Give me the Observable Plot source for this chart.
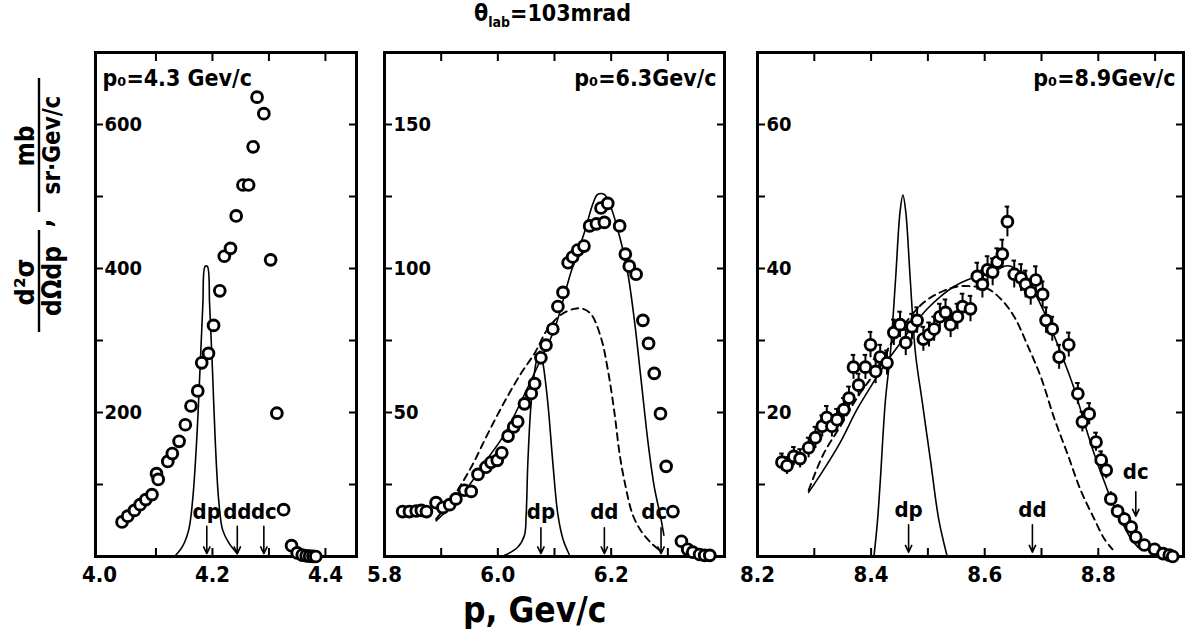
<!DOCTYPE html>
<html>
<head>
<meta charset="utf-8">
<script src="https://cdn.jsdelivr.net/npm/d3@7"></script>
<script src="https://cdn.jsdelivr.net/npm/@observablehq/plot@0.6"></script>
<style>
  html, body { margin: 0; padding: 0; background: #fff; }
  #wrap { position: relative; width: 1187px; height: 629px; overflow: hidden; background: #fff;
          font-family: "DejaVu Sans Condensed", "DejaVu Sans", sans-serif; font-weight: bold; color: #000; }
  #wrap svg { position: absolute; top: 0; }
  .title { position: absolute; left: 474px; top: 1px; font-size: 23px; line-height: 1.1; white-space: nowrap; }
  .title sub { font-size: 14px; }
  .xlab { position: absolute; left: 463px; top: 593px; font-size: 35px; line-height: 1; white-space: nowrap; }
</style>
</head>
<body>
<div id="wrap">
  <div class="title">θ<sub>lab</sub>=103mrad</div>
  <div class="xlab">p, Gev/c</div>
</div>
<script>
// ---------- Panel 1 : p0 = 4.3 GeV/c ----------
const p1x = [4.040,4.050,4.062,4.072,4.082,4.093,4.101,4.104,4.121,4.129,4.141,4.152,4.162,4.174,4.181,4.193,4.202,4.213,4.221,4.232,4.242,4.254,4.264,4.272,4.279,4.291,4.303,4.314,4.326,4.340,4.350,4.359,4.366,4.372,4.378,4.383];
const p1y = [48,56,64,72,79,86,115,107,132,143,160,183,209,230,269,282,321,369,417,428,473,516,516,569,638,615,412,199,65,15,5,2,1,0.5,0.3,0];
const c1x = [4.133,4.147,4.158,4.165,4.172,4.178,4.183,4.187,4.191,4.195,4.200,4.205,4.211,4.218,4.229,4.244];
const c1y = [0,14,37,79,160,260,350,403,403,350,260,160,79,37,19,4];
const m1x = [4.190,4.244,4.291];
const m1lab = ["dp","dd","dc"];
const x1ticks = [4.1,4.2,4.3,4.4];
const x1labels = [4.0,4.2,4.4];
const y1ticks = [100,200,300,400,500,600];
const y1labels = [200,400,600];

// ---------- Panel 2 : p0 = 6.3 GeV/c ----------
const p2x = [5.832,5.844,5.856,5.865,5.874,5.891,5.903,5.915,5.926,5.941,5.953,5.965,5.979,5.988,5.999,6.007,6.018,6.028,6.035,6.047,6.059,6.065,6.076,6.085,6.097,6.106,6.115,6.124,6.132,6.141,6.152,6.162,6.174,6.182,6.188,6.194,6.215,6.225,6.232,6.244,6.256,6.266,6.276,6.287,6.297,6.309,6.324,6.335,6.344,6.356,6.365,6.374];
const p2y = [15.6,15.6,15.8,16,15.6,18.7,17,18,20,23,22.6,28.5,31,32.7,33.4,36,41.8,45,46.8,53,56.6,60,69,73.4,79,86.8,91.7,102,104,106.4,107.8,114.8,115.5,121,116,122.6,114.8,105,100.8,98,82,74,63.6,49.6,31.3,15.6,5.3,2.5,1.5,0.7,0.4,0.4];
const c2x = [5.891,5.924,5.953,5.982,6.012,6.041,6.071,6.100,6.129,6.153,6.168,6.176,6.188,6.200,6.215,6.229,6.241,6.253,6.265,6.276,6.288,6.293];
const c2y = [12.4,18.7,25.7,34,42.5,53.8,66.4,79,98.7,112.7,122.6,125.7,125.7,121,111,98.7,82,61,39.7,24.3,13,7.4];
const d2x = [5.891,5.924,5.953,5.982,6.012,6.041,6.065,6.088,6.112,6.135,6.150,6.165,6.182,6.194,6.206,6.215,6.224,6.238,6.253,6.271,6.288];
const d2y = [13,21.5,31,42.5,53.8,63.6,70.6,79,84,86,86,84,76,65,49.6,35.5,25.7,14.5,8.8,4.6,1.8];
const n2x = [6.012,6.035,6.047,6.050,6.053,6.059,6.068,6.074,6.079,6.088,6.097,6.106,6.115,6.126];
const n2y = [0.4,3.2,7.4,14.5,32.7,53.8,67.8,71.3,67.8,53.8,32.7,14.5,6,0.7];
const m2x = [6.076,6.188,6.288];
const m2lab = ["dp","dd","dc"];
const x2ticks = [5.9,6.0,6.1,6.2,6.3];
const x2labels = [5.8,6.0,6.2];
const y2ticks = [25,50,75,100,125,150];
const y2labels = [50,100,150];

// ---------- Panel 3 : p0 = 8.9 GeV/c ----------
const p3x = [8.243,8.252,8.264,8.275,8.290,8.302,8.314,8.322,8.331,8.340,8.352,8.361,8.369,8.378,8.390,8.399,8.408,8.416,8.428,8.440,8.451,8.461,8.472,8.481,8.492,8.502,8.511,8.521,8.531,8.540,8.552,8.561,8.575,8.587,8.596,8.605,8.614,8.622,8.631,8.640,8.652,8.664,8.672,8.681,8.690,8.702,8.708,8.719,8.731,8.748,8.764,8.772,8.784,8.796,8.805,8.814,8.822,8.834,8.846,8.858,8.866,8.881,8.899,8.914,8.925,8.931];
const p3y = [13.1,12.6,13.9,13.6,15.1,16.5,18.1,19.3,18.1,19.0,20.4,22.0,26.3,23.8,26.3,29.4,25.7,27.7,26.9,31.1,32.2,29.7,31.9,32.8,30.2,30.8,31.6,33.3,33.9,32.2,33.3,34.7,34.4,38.9,37.8,39.8,39.5,40.9,42.0,46.5,39.2,38.7,37.8,36.7,38.4,36.4,32.8,31.6,27.7,29.4,22.6,18.7,19.8,15.9,13.4,12.0,8.0,6.3,5.2,4.1,2.7,1.6,1.0,0.4,0.2,0];
const e3 = [1.2,1.2,1.3,1.3,1.4,1.5,1.5,1.6,1.5,1.5,1.6,1.6,1.7,1.6,1.7,1.8,1.7,1.7,1.7,1.8,1.8,1.8,1.8,1.8,1.7,1.7,1.7,1.8,1.8,1.8,1.8,1.8,1.8,1.9,1.9,1.9,1.9,1.9,2.0,2.1,1.9,1.9,1.9,1.8,1.9,1.8,1.8,1.7,1.7,1.7,1.5,1.4,1.5,1.3,1.2,1.2,1.0,0.9,0.9,0.8,0.7,0.6,0.5,0.4,0.3,0.3];
const c3x = [8.290,8.316,8.346,8.375,8.405,8.428,8.452,8.475,8.499,8.522,8.546,8.569,8.593,8.616,8.634,8.646,8.664,8.687,8.711,8.734,8.758,8.775,8.793,8.811,8.828,8.846,8.858,8.870];
const c3y = [8.9,12,15.9,20.4,24.3,27.1,29.7,32.2,34.4,36.1,37.5,38.4,39,39.5,40.3,40.3,38.9,36.7,32.8,28.3,23.2,18.7,14.2,10.3,6.9,4.1,2.4,1.3];
const d3x = [8.290,8.316,8.346,8.375,8.405,8.434,8.464,8.493,8.522,8.552,8.581,8.605,8.628,8.652,8.675,8.699,8.722,8.746,8.769,8.793,8.811,8.825];
const d3y = [9.2,14.2,18.1,22,25.4,29.4,32.8,35.3,36.7,37.5,37.5,37.2,35.8,33.3,29.4,24.9,19.3,14.2,9.2,5.2,2.4,1];
const n3x = [8.405,8.411,8.416,8.425,8.434,8.443,8.451,8.456,8.461,8.469,8.478,8.490,8.505,8.519,8.534];
const n3y = [0,4.7,10.3,21.5,28.3,38.4,47.9,50.2,47.9,38.4,28.3,21.5,13.1,5.2,0];
const m3x = [8.466,8.684,8.866];
const m3lab = ["dp","dd","dc"];
const x3ticks = [8.3,8.4,8.5,8.6,8.7,8.8,8.9];
const x3labels = [8.2,8.4,8.6,8.8];
const y3ticks = [10,20,30,40,50,60];
const y3labels = [20,40,60];

const FONT = "'DejaVu Sans Condensed', 'DejaVu Sans', sans-serif";
const zipXY = (xs, ys) => xs.map((x, i) => ({x, y: ys[i]}));

function panel(o) {
  const T = 8;
  const marks = [
    // inward ticks on all four sides
    Plot.axisX(o.xticks, {anchor: "bottom", tickSize: T, dy: -T, tickFormat: () => "", strokeWidth: 2, label: null}),
    Plot.axisX(o.xticks, {anchor: "top", tickSize: T, dy: T, tickFormat: () => "", strokeWidth: 2, label: null}),
    Plot.axisY(o.yticks, {anchor: "left", tickSize: T, dx: T, tickFormat: () => "", strokeWidth: 2, label: null}),
    Plot.axisY(o.yticks, {anchor: "right", tickSize: T, dx: -T, tickFormat: () => "", strokeWidth: 2, label: null}),
    // tick labels
    Plot.axisX(o.xlabels, {anchor: "bottom", tickSize: 0, tickPadding: 10, tickFormat: d3.format(".1f"), fontSize: 22, label: null}),
    Plot.text(o.ylabels, {x: o.xd[0], y: d => d, text: d => String(d), dx: 9, textAnchor: "start", fontSize: 20}),
    Plot.frame({stroke: "black", strokeWidth: 3})
  ];
  for (const c of o.solid) marks.push(Plot.line(c, {x: "x", y: "y", stroke: "black", strokeWidth: 1.6, curve: "catmull-rom"}));
  for (const c of o.dashed) marks.push(Plot.line(c, {x: "x", y: "y", stroke: "black", strokeWidth: 1.9, strokeDasharray: "7,5", curve: "catmull-rom"}));
  if (o.err) {
    marks.push(Plot.ruleX(o.err, {x: "x", y1: d => d.y - d.e, y2: d => d.y + d.e, stroke: "black", strokeWidth: 2}));
    marks.push(Plot.ruleY(o.err.filter(d => d.e > 1.1), {y: d => d.y + d.e, x1: d => d.x - 0.004, x2: d => d.x + 0.004, stroke: "black", strokeWidth: 2}));
  }
  marks.push(Plot.dot(o.dots, {x: "x", y: "y", r: 5.4, stroke: "black", strokeWidth: 2.9, fill: "white"}));
  // markers dp/dd/dc
  marks.push(Plot.arrow(o.arrows, {x1: "x", x2: "x", y1: "y1", y2: "y2", stroke: "black", strokeWidth: 1.6, headLength: 7, headAngle: 50}));
  marks.push(Plot.text(o.arrowText, {x: "x", y: "y", text: "t", fontSize: 22}));
  marks.push(Plot.text([o.p0], {frameAnchor: o.p0anchor, dx: o.p0dx, dy: 17, text: d => d, fontSize: 23, textAnchor: o.p0anchor === "top-left" ? "start" : "end"}));
  return Plot.plot({
    width: o.width, height: 629,
    marginLeft: o.ml, marginRight: o.mr, marginTop: 52, marginBottom: 73,
    x: {domain: o.xd}, y: {domain: o.yd},
    style: {fontFamily: FONT, fontWeight: "bold", background: "transparent", color: "black", overflow: "visible"},
    marks
  });
}

const wrap = document.getElementById("wrap");

const svg1 = panel({
  width: 370, ml: 95, mr: 14, xd: [3.993, 4.455], yd: [0, 700],
  xticks: x1ticks, xlabels: x1labels, yticks: y1ticks, ylabels: y1labels,
  solid: [zipXY(c1x, c1y)], dashed: [],
  dots: zipXY(p1x, p1y),
  arrows: m1x.map(x => ({x, y1: 42, y2: 4})),
  arrowText: m1x.map((x, i) => ({x, y: 62, t: m1lab[i]})),
  p0: "p₀=4.3 Gev/c", p0anchor: "top-left", p0dx: 7
});
svg1.style.left = "0px";
wrap.appendChild(svg1);

const svg2 = panel({
  width: 372, ml: 14, mr: 18, xd: [5.8, 6.4], yd: [0, 175],
  xticks: x2ticks, xlabels: x2labels, yticks: y2ticks, ylabels: y2labels,
  solid: [zipXY(c2x, c2y), zipXY(n2x, n2y)], dashed: [zipXY(d2x, d2y)],
  dots: zipXY(p2x, p2y),
  arrows: m2x.map(x => ({x, y1: 10, y2: 1})),
  arrowText: m2x.map((x, i) => ({x: i === 2 ? x - 0.012 : x, y: 15.5, t: m2lab[i]})),
  p0: "p₀=6.3Gev/c", p0anchor: "top-right", p0dx: -8
});
svg2.style.left = "370px";
wrap.appendChild(svg2);

const svg3 = panel({
  width: 444, ml: 14, mr: 4, xd: [8.2, 8.95], yd: [0, 70],
  xticks: x3ticks, xlabels: x3labels, yticks: y3ticks, ylabels: y3labels,
  solid: [zipXY(c3x, c3y), zipXY(n3x, n3y)], dashed: [zipXY(d3x, d3y)],
  dots: zipXY(p3x, p3y),
  err: p3x.map((x, i) => ({x, y: p3y[i], e: e3[i]})),
  arrows: m3x.map((x, i) => i === 2 ? {x, y1: 9, y2: 5.6} : {x, y1: 4.4, y2: 0.6}),
  arrowText: m3x.map((x, i) => ({x, y: i === 2 ? 11.8 : 6.4, t: m3lab[i]})),
  p0: "p₀=8.9Gev/c", p0anchor: "top-right", p0dx: -8
});
svg3.style.left = "743px";
wrap.appendChild(svg3);

// y-axis title (rotated fraction)
const g = d3.select(svg1).append("g")
  .attr("transform", "translate(39,334) rotate(-90)")
  .attr("font-family", FONT).attr("font-weight", "bold").attr("fill", "black");
g.append("text").attr("x", 52).attr("y", -5).attr("text-anchor", "middle").attr("font-size", 27).text("d²σ");
g.append("line").attr("x1", 2).attr("x2", 104).attr("y1", 0).attr("y2", 0).attr("stroke", "black").attr("stroke-width", 2.4);
g.append("text").attr("x", 53).attr("y", 22).attr("text-anchor", "middle").attr("font-size", 26).text("dΩdp");
g.append("text").attr("x", 111).attr("y", 12).attr("text-anchor", "middle").attr("font-size", 26).text(",");
g.append("text").attr("x", 188).attr("y", -5).attr("text-anchor", "middle").attr("font-size", 26).text("mb");
g.append("line").attr("x1", 122).attr("x2", 256).attr("y1", 0).attr("y2", 0).attr("stroke", "black").attr("stroke-width", 2.4);
g.append("text").attr("x", 189).attr("y", 21).attr("text-anchor", "middle").attr("font-size", 24).text("sr·Gev/c");
</script>
</body>
</html>
